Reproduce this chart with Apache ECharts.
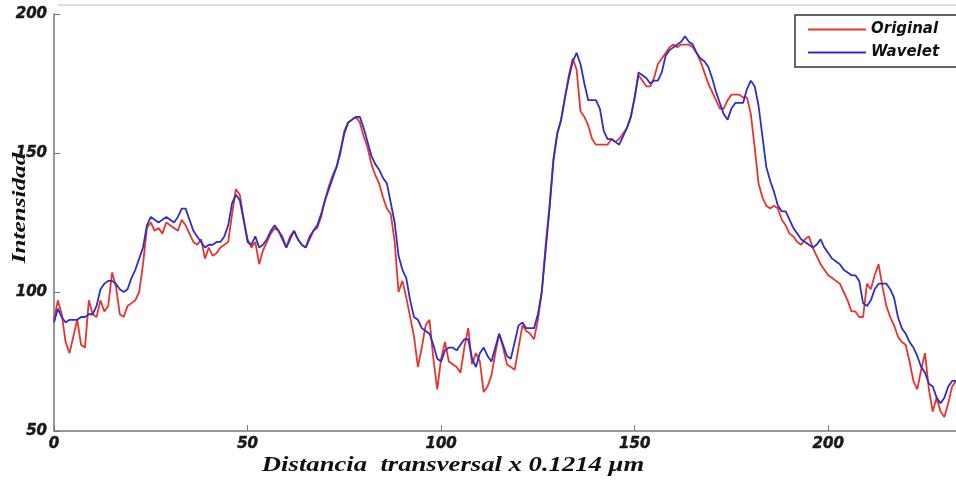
<!DOCTYPE html>
<html>
<head>
<meta charset="utf-8">
<script src="https://cdn.jsdelivr.net/npm/echarts@6/dist/echarts.min.js"></script>
<style>html,body{margin:0;padding:0;background:#fff}#c{width:956px;height:480px}</style>
</head>
<body>
<div id="c"></div>
<script>
// Distance index (x) starts at 0 with step 1
const xStart = 0;
const original = [
90,97,92,82,78,84,90,81,80,97,92,91,97,93,95,107,102,92,91,95,
96,97,100,110,123,125,122,123,121,125,124,123,122,126,124,121,118,117,119,112,
116,113,114,116,117,118,128,137,135,126,119,116,118,110,115,118,121,123,122,120,
116,120,122,119,117,116,120,122,123,127,133,138,142,145,150,158,161,162,163,161,
156,152,146,142,139,134,130,128,118,100,104,98,91,84,73,80,88,90,76,65,
76,82,75,74,73,71,80,87,74,78,75,64,66,70,78,85,80,74,73,72,
80,88,86,85,83,90,100,117,131,148,157,162,170,178,184,180,165,163,160,155,
153,153,153,153,155,154,155,157,159,163,170,178,176,174,174,177,182,184,186,188,
189,188,189,189,189,188,186,183,179,175,172,169,166,166,169,171,171,171,170,170,
164,152,139,134,131,130,131,130,126,124,121,120,118,117,119,120,116,113,110,108,
106,105,104,103,100,97,93,93,91,91,103,101,106,110,102,95,91,88,84,82,
81,75,68,65,72,78,65,57,62,57,55,60,66,68
];
const wavelet = [
89,94,91,89,90,90,90,91,91,92,92,95,101,103,104,104,103,101,100,101,
105,108,112,116,124,127,126,125,126,127,126,125,127,130,130,126,122,120,118,116,
117,117,118,118,120,124,132,135,133,126,118,117,120,116,117,119,122,124,122,119,
116,119,122,119,117,116,119,122,124,128,133,137,141,145,151,157,161,162,163,163,
159,154,149,146,144,141,139,132,125,113,108,105,97,91,90,87,86,85,81,76,
75,79,80,80,79,81,83,83,76,73,78,80,77,75,80,85,81,77,76,82,
88,89,87,87,87,92,100,115,130,147,157,162,170,177,183,186,182,175,169,169,
169,166,158,155,155,154,153,156,159,163,170,179,178,177,175,176,176,179,185,187,
188,189,190,192,190,189,186,184,183,181,177,172,168,164,162,166,168,168,168,173,
176,174,167,156,145,140,136,131,129,129,126,123,121,119,118,117,116,117,119,116,
114,112,111,110,108,107,106,106,104,96,95,97,101,103,103,103,101,98,91,87,
85,82,80,77,73,71,67,66,62,60,62,66,68,68
];
const xTicks = [0, 50, 100, 150, 200];
const yTicks = [50, 100, 150, 200];
const seriesNames = ['Original', 'Wavelet'];
const yTitle = 'Intensidad';
const xTitle = 'Distancia  transversal x 0.1214 μm';

const toPairs = arr => arr.map((v, i) => [xStart + i, v]);

const chart = echarts.init(document.getElementById('c'));
const tickLabel = () => ({ fontFamily: 'DejaVu Sans', fontWeight: 700, fontStyle: 'italic', fontSize: 15, color: '#1a1a1a',
                           textBorderColor: '#1a1a1a', textBorderWidth: 0.5 });
const titleFont = () => ({ fontFamily: 'Liberation Serif', fontWeight: 700, fontStyle: 'italic', fill: '#111',
                    align: 'center', verticalAlign: 'middle' });
chart.setOption({
  animation: false,
  backgroundColor: '#fff',
  grid: { left: 54, top: 14, right: 0, bottom: 49, containLabel: false, outerBoundsMode: 'none' },
  xAxis: {
    type: 'value', min: 0, max: 233, interval: 50,
    axisLine: { show: true, lineStyle: { color: '#777', width: 1.5 } },
    axisTick: { show: true, inside: true, length: 6, lineStyle: { color: '#777' } },
    axisLabel: Object.assign({ margin: 6, showMaxLabel: false }, tickLabel()),
    splitLine: { show: false }
  },
  yAxis: {
    type: 'value', min: 50, max: 200, interval: 50,
    axisLine: { show: true, lineStyle: { color: '#777', width: 1.5 } },
    axisTick: { show: true, inside: true, length: 6, lineStyle: { color: '#777' } },
    axisLabel: Object.assign({ margin: 7 }, tickLabel()),
    splitLine: { show: false }
  },
  legend: {
    orient: 'vertical', left: 795, top: 15,
    padding: [7, 40, 7, 13], itemGap: 8,
    itemWidth: 58, itemHeight: 2, icon: 'rect',
    borderColor: '#333', borderWidth: 1.5, backgroundColor: '#fff',
    textStyle: { fontFamily: 'DejaVu Sans', fontWeight: 700, fontStyle: 'italic', fontSize: 15, color: '#111', lineHeight: 14 },
    data: seriesNames
  },
  graphic: [{
    type: 'line', shape: { x1: 58, y1: 5, x2: 956, y2: 5 },
    style: { stroke: '#ddd', lineWidth: 2 }, silent: true
  }, {
    type: 'text', x: 20, y: 208, rotation: Math.PI / 2, scaleX: 1.4, silent: true,
    style: Object.assign({ text: yTitle, fontSize: 18 }, titleFont())
  }, {
    type: 'text', x: 453, y: 466, scaleX: 1.27, silent: true,
    style: Object.assign({ text: xTitle, fontSize: 21 }, titleFont())
  }],
  series: [
    { name: seriesNames[0], type: 'line', data: toPairs(original), symbol: 'none',
      lineStyle: { color: '#e8342c', width: 1.8 }, itemStyle: { color: '#e8342c' } },
    { name: seriesNames[1], type: 'line', data: toPairs(wavelet), symbol: 'none',
      lineStyle: { color: '#2e2ec8', width: 1.8 }, itemStyle: { color: '#2e2ec8' } }
  ]
});
</script>
</body>
</html>
